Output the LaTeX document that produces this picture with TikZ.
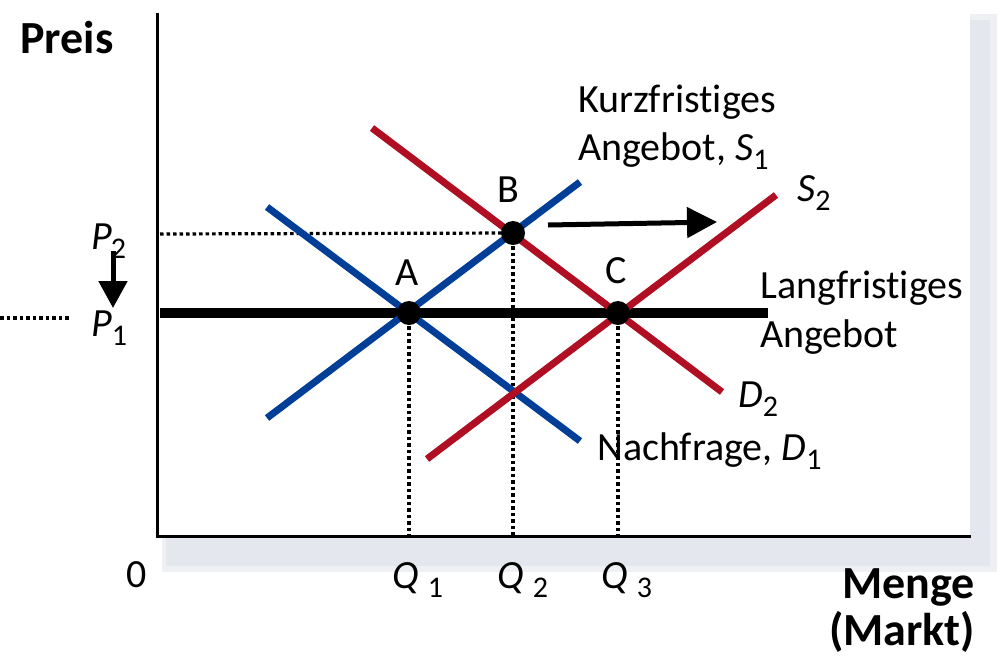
\documentclass[tikz,border=0pt]{standalone}
\usepackage{fontspec}
\setmainfont{Carlito}[Ligatures=NoCommon]
\usetikzlibrary{arrows.meta}
\definecolor{sblue}{RGB}{0,62,152}
\definecolor{sred}{RGB}{176,14,34}
\definecolor{shadowa}{RGB}{238,240,244}
\definecolor{shadowb}{RGB}{228,231,238}
\newcommand\labfont{\fontsize{40}{48}\selectfont}
\newcommand\boldfont{\fontsize{46}{52}\selectfont\bfseries}
\newcommand\subs[1]{\raisebox{-9pt}{\fontsize{30}{30}\selectfont #1}}
\begin{document}
\begin{tikzpicture}[x=1pt,y=-1pt,
  curve/.style={line width=7pt},
  ltline/.style={line width=10pt},
  guide/.style={line width=3.2pt, dash pattern=on 3.5pt off 3pt},
  dotpt/.style={fill=black},
  lab/.style={font=\labfont, inner sep=0pt, anchor=base west},
  bigl/.style={font=\boldfont, inner sep=0pt},
  bigarrow/.style={line width=5pt, -{Triangle[length=30pt,width=30pt]}}]
\useasboundingbox (0,0) rectangle (1000,659);
% shadowed plot frame
\fill[shadowa] (162,14) rectangle (997,572);
\fill[shadowb] (166,20) rectangle (990,566);
\fill[white] (150,5) rectangle (970,535);
% coordinates
\coordinate (ytop) at (157,13);
\coordinate (orig) at (157,536);
\coordinate (xend) at (971,536);
\coordinate (s1a) at (267,418); \coordinate (s1b) at (580,182);
\coordinate (d1a) at (267,207); \coordinate (d1b) at (580,441);
\coordinate (d2a) at (372,128); \coordinate (d2b) at (722,392);
\coordinate (s2a) at (427,459); \coordinate (s2b) at (776,195);
\coordinate (la) at (160,313); \coordinate (lb) at (768,313);
\coordinate (A) at (409,313);
\coordinate (B) at (513,233);
\coordinate (C) at (618,313);
\coordinate (p2l) at (160,234);
\coordinate (lfa) at (0,318); \coordinate (lfb) at (70,318);
% guides
\draw[guide] (p2l) -- (B);
\draw[guide] (A) -- (A |- orig);
\draw[guide] (B) -- (B |- orig);
\draw[guide] (C) -- (C |- orig);
\draw[guide] (lfa) -- (lfb);
% axes
\draw[line width=3pt] (ytop) -- (orig) -- (xend);
% curves
\draw[ltline] (la) -- (lb);
\draw[curve, sblue] (s1a) -- (s1b);
\draw[curve, sblue] (d1a) -- (d1b);
\draw[curve, sred] (d2a) -- (d2b);
\draw[curve, sred] (s2a) -- (s2b);
\fill[dotpt] (A) circle (12);
\fill[dotpt] (B) circle (12);
\fill[dotpt] (C) circle (12);
% arrows
\coordinate (ra) at (548,225); \coordinate (rb) at (717,222);
\draw[bigarrow] (ra) -- (rb);
\coordinate (da) at (113,251); \coordinate (db) at (113,308);
\draw[line width=5pt, -{Triangle[length=27pt,width=28pt]}] (da) -- (db);
% labels
\node[bigl, anchor=base] (preis) at (67,53) {Preis};
\node[bigl, anchor=base east] (menge) at (975,598) {Menge};
\node[bigl, anchor=base east] (markt) at (975,645) {(Markt)};
\node[lab, anchor=base] (zero) at (137,587) {0};
\node[lab] (q1) at (392,588) {\textit{Q}\hspace{9pt}\subs{1}};
\node[lab] (q2) at (497,588) {\textit{Q}\hspace{9pt}\subs{2}};
\node[lab] (q3) at (601,588) {\textit{Q}\hspace{9pt}\subs{3}};
\node[lab] (p2) at (91,249) {\textit{P}\hspace{-1pt}\subs{2}};
\node[lab] (p1) at (91,336) {\textit{P}\hspace{0pt}\subs{1}};
\node[lab, anchor=base] (la1) at (407,285) {A};
\node[lab, anchor=base] (lb1) at (508,202) {B};
\node[lab, anchor=base] (lc1) at (616,283) {C};
\node[lab] (kurz) at (578,112) {Kurzfristiges};
\node[lab] (ang1) at (578,160) {Angebot, \textit{S}\subs{1}};
\node[lab] (s2l) at (797,201) {\textit{S}\subs{2}};
\node[lab] (lang) at (760,298) {Langfristiges};
\node[lab] (ang2) at (760,347) {Angebot};
\node[lab] (d2l) at (738,407) {\textit{D}\subs{2}};
\node[lab] (nach) at (597,460) {Nachfrage, \textit{D}\subs{1}};
\end{tikzpicture}
\end{document}
